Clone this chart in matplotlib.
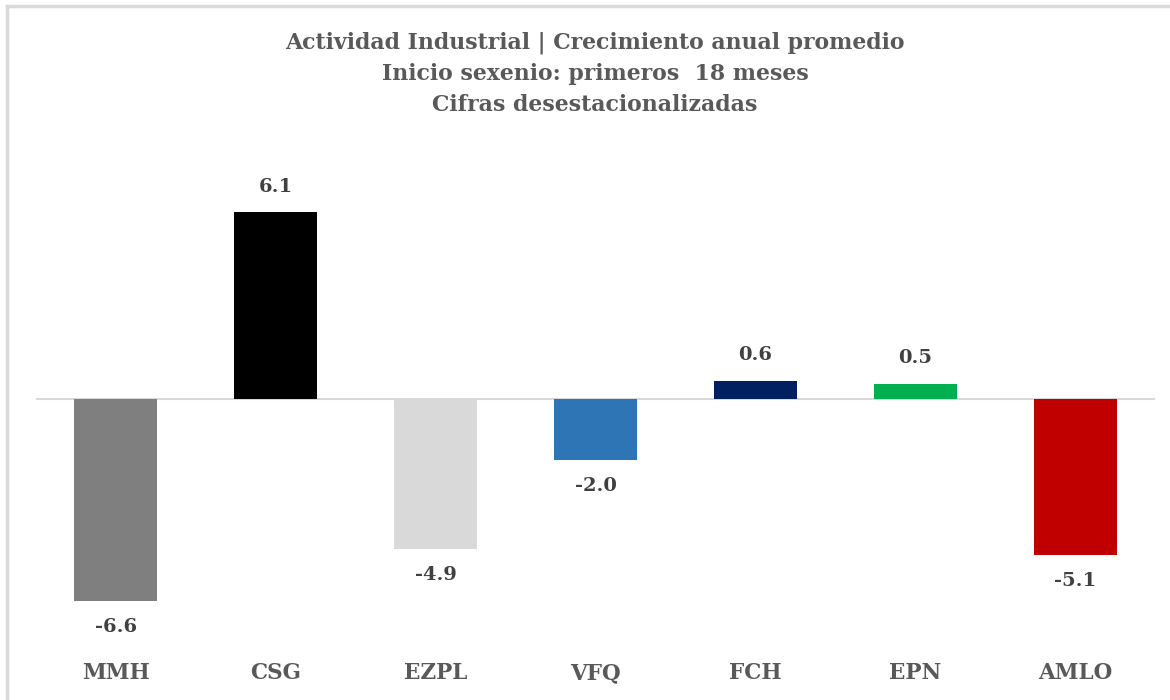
import matplotlib.pyplot as plt
from matplotlib.lines import Line2D

# ===== data =====
categories = ["MMH", "CSG", "EZPL", "VFQ", "FCH", "EPN", "AMLO"]
values = [-6.6, 6.1, -4.9, -2.0, 0.6, 0.5, -5.1]
bar_colors = ["#7F7F7F", "#000000", "#D9D9D9", "#2E75B6", "#002060", "#00B050", "#C00000"]
title_lines = ["Actividad Industrial | Crecimiento anual promedio",
               "Inicio sexenio: primeros  18 meses",
               "Cifras desestacionalizadas"]

plt.rcParams['font.family'] = ['DejaVu Serif', 'Liberation Serif']

W, H = 1170, 700
fig = plt.figure(figsize=(W / 100, H / 100), dpi=100)

# outer frame: only the left and top edges show in the reference
fx0, fy0 = 7 / W, 1 - 6 / H
fig.add_artist(Line2D([fx0, fx0], [0, fy0], transform=fig.transFigure,
                      color='#D9D9D9', linewidth=2.5, solid_capstyle='projecting'))
fig.add_artist(Line2D([fx0, 1], [fy0, fy0], transform=fig.transFigure,
                      color='#D9D9D9', linewidth=2.5, solid_capstyle='projecting'))

# axes placed in pixel terms
left, right = 36, 1155
top, bottom = 140, 650
ax = fig.add_axes([left / W, 1 - bottom / H, (right - left) / W, (bottom - top) / H])

px_per_unit = 30.6
zero_y = 399
ax.set_ylim(-(bottom - zero_y) / px_per_unit, (zero_y - top) / px_per_unit)
ax.set_xlim(-0.5, len(categories) - 0.5)

x = list(range(len(categories)))
ax.bar(x, values, width=0.52, color=bar_colors, zorder=2)
ax.axhline(0, color='#D9D9D9', linewidth=1.5, zorder=1)

for xi, v in zip(x, values):
    off = 0.55 if v > 0 else -0.55
    ax.text(xi, v + off, f"{v:.1f}", ha='center', va='bottom' if v > 0 else 'top',
            fontsize=14, fontweight='bold', color='#404040')

ax.set_xticks([])
ax.set_yticks([])
for s in ax.spines.values():
    s.set_visible(False)

# category labels on one row below the bars (y ~ 673 px)
for xi, c in zip(x, categories):
    fx = (left + (xi + 0.5) * (right - left) / len(categories)) / W
    fig.text(fx, 1 - 673 / H, c, ha='center', va='center',
             fontsize=15.5, fontweight='bold', color='#595959')

for i, line in enumerate(title_lines):
    fig.text(595 / W, 1 - (43 + i * 31) / H, line, ha='center', va='center',
             fontsize=15.8, fontweight='bold', color='#595959')

fig.savefig('out.png', dpi=100)
